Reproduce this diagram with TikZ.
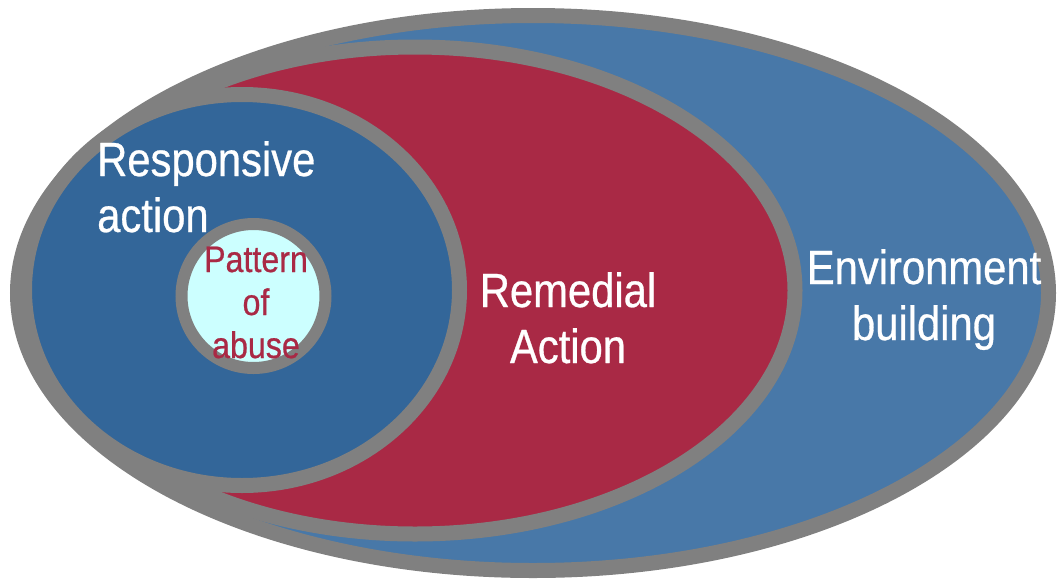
\documentclass[tikz,border=0pt]{standalone}
\usepackage{fontspec}
\setmainfont[FakeStretch=0.87, FakeBold=0.6]{Liberation Sans}
\usetikzlibrary{positioning}

\definecolor{envblue}{HTML}{4878A8}
\definecolor{respblue}{HTML}{336699}
\definecolor{remred}{HTML}{A92945}
\definecolor{rimgray}{HTML}{808080}
\definecolor{corecyan}{HTML}{CCFFFF}

\begin{document}
\begin{tikzpicture}[x=1pt, y=-1pt,
        ring/.style={line width=15pt, draw=rimgray},
        bigtext/.style={inner sep=0pt, text=white, font=\fontsize{48}{56}\selectfont},
        smalltext/.style={inner sep=0pt, text=remred, font=\fontsize{37}{43}\selectfont}]
    \useasboundingbox (0,0) rectangle (1058,582);
    %% Environment building (outer)
    \filldraw[ring, fill=envblue] (533,293) ellipse [x radius=515.5pt, y radius=277.5pt];
    %% Remedial action
    \filldraw[ring, fill=remred] (415,290.5) ellipse [x radius=380pt, y radius=243.5pt];
    %% Responsive action
    \filldraw[ring, fill=respblue] (242,290) ellipse [x radius=217.5pt, y radius=195.5pt];
    %% Pattern of abuse (core)
    \filldraw[line width=12pt, draw=rimgray, fill=corecyan] (253.5,296) circle [radius=72pt];

    %% Labels (base = last line)
    \node[bigtext, anchor=base west, align=left] (resp) at (97,232) {Responsive\\action};
    \node[smalltext, anchor=base, align=center] (core) at (256,358) {Pattern\\of\\abuse};
    \node[bigtext, anchor=base, align=center] (rem) at (568,363) {Remedial\\Action};
    \node[bigtext, anchor=base, align=center] (env) at (924,340) {Environment\\building};
\end{tikzpicture}
\end{document}
